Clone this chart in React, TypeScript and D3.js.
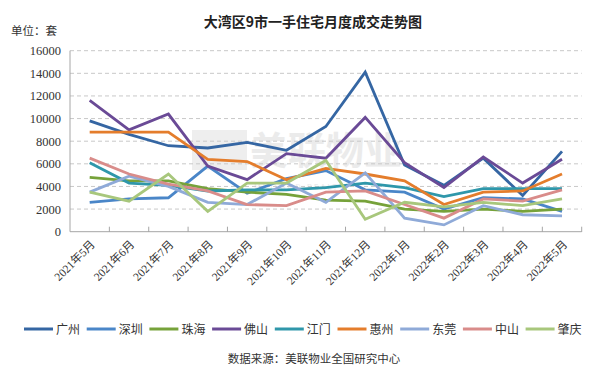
import React from "react";
import * as d3 from "d3";

const months = ["2021年5月","2021年6月","2021年7月","2021年8月","2021年9月","2021年10月","2021年11月","2021年12月","2022年1月","2022年2月","2022年3月","2022年4月","2022年5月"];
const cities = ["广州","深圳","珠海","佛山","江门","惠州","东莞","中山","肇庆"];
const guangzhou = [9800,8600,7600,7400,7900,7200,9300,14100,5900,4100,6500,3200,7100];
const shenzhen = [2600,2900,3000,5800,3400,4700,5400,3700,3500,2000,3000,2900,1800];
const zhuhai = [4800,4500,4500,3800,3500,3300,2800,2700,2000,1800,2000,1800,2000];
const foshan = [11600,9000,10400,5800,4600,6900,6500,10100,6100,3900,6600,4300,6400];
const jiangmen = [6100,4300,4100,3600,3700,3700,3900,4300,3900,3100,3800,3800,3800];
const huizhou = [8800,8800,8800,6400,6200,4600,5600,5100,4500,2400,3500,3600,5100];
const dongguan = [3500,4900,4000,2600,2400,4300,2600,5200,1200,600,2300,1500,1400];
const zhongshan = [6500,5100,4200,3600,2400,2300,3500,3600,2400,1200,2900,2700,3700];
const zhaoqing = [3500,2700,5100,1800,4300,4300,6300,1100,2600,2200,2600,2300,2900];
const seriesValues = [guangzhou, shenzhen, zhuhai, foshan, jiangmen, huizhou, dongguan, zhongshan, zhaoqing];
const colors = ["#3566A3","#4A86C8","#76A23A","#6A4A96","#2F97AA","#E47D2C","#8FAAD8","#D98C8A","#A8C77C"];
const yTicks = [0,2000,4000,6000,8000,10000,12000,14000,16000];

export default function App() {
  const W = 600, H = 369;
  const x = d3.scaleBand<string>().domain(months).range([70, 581.7]);
  const y = d3.scaleLinear().domain([0, 16000]).range([231.7, 50.7]);
  const line = d3.line<number>()
    .x((_, i) => (x(months[i]) as number) + x.bandwidth() / 2)
    .y((d) => y(d));
  const serif = "'Liberation Serif', 'Noto Sans CJK SC', serif";
  const cjk = "'Noto Sans CJK SC', sans-serif";
  const bounds = months.map((m) => (x(m) as number)).concat([581.7]);
  return (
    <svg width={W} height={H} style={{ position: "absolute", left: 0, top: 0, background: "#fff" }}>
      <rect x={0} y={0} width={W} height={H} fill="#fff" />
      <text x={11} y={35} fontSize={11.5} fontFamily={cjk} fill="#333">单位：套</text>
      <text x={313} y={27} textAnchor="middle" fontSize={14} fontWeight="bold" fontFamily={cjk} fill="#222">大湾区9市一手住宅月度成交走势图</text>
      {/* watermark */}
      <g opacity={0.6}>
        <rect x={192} y={130} width={55} height={40} fill="#e4e4e4" />
        <text x={250} y={164} fontSize={38} fontWeight="bold" fontFamily={cjk} fill="#dedede">美联物业</text>
        <text x={254} y={190} fontSize={8} fontFamily={cjk} fill="#dcdcdc" letterSpacing={2}>MIDLAND REALTY</text>
      </g>
      {yTicks.filter((t) => t > 0).map((t) => (
        <line key={t} x1={70} x2={581.7} y1={y(t)} y2={y(t)} stroke="#C8C8C8" strokeDasharray="4,3" strokeWidth={1} />
      ))}
      {yTicks.map((t) => (
        <text key={t} x={61} y={y(t) + 4.5} textAnchor="end" fontSize={12.5} fontFamily={serif} fill="#333">{t}</text>
      ))}
      <line x1={70} x2={70} y1={50.7} y2={231.7} stroke="#A6A6A6" strokeWidth={1} />
      <line x1={70} x2={581.7} y1={231.7} y2={231.7} stroke="#A6A6A6" strokeWidth={1} />
      {bounds.slice(1).map((b, i) => (
        <line key={i} x1={b} x2={b} y1={226.7} y2={232} stroke="#A6A6A6" strokeWidth={1} />
      ))}
      {seriesValues.map((vals, k) => (
        <path key={k} d={line(vals) || ""} fill="none" stroke={colors[k]} strokeWidth={2.8} strokeLinejoin="miter" />
      ))}
      {months.map((m) => {
        const cx = (x(m) as number) + x.bandwidth() / 2;
        return (
          <text key={m} transform={`translate(${cx + 6},${245}) rotate(-45)`} textAnchor="end" fontSize={11.5} fontFamily={serif} fill="#333">{m}</text>
        );
      })}
      {cities.map((c, k) => {
        const lx = 24 + k * 62.7;
        return (
          <g key={c}>
            <line x1={lx} x2={lx + 29} y1={329} y2={329} stroke={colors[k]} strokeWidth={3} />
            <text x={lx + 32} y={333.5} fontSize={12} fontFamily={cjk} fill="#333">{c}</text>
          </g>
        );
      })}
      <text x={314} y={363} textAnchor="middle" fontSize={11.5} fontFamily={cjk} fill="#333">数据来源：美联物业全国研究中心</text>
    </svg>
  );
}
